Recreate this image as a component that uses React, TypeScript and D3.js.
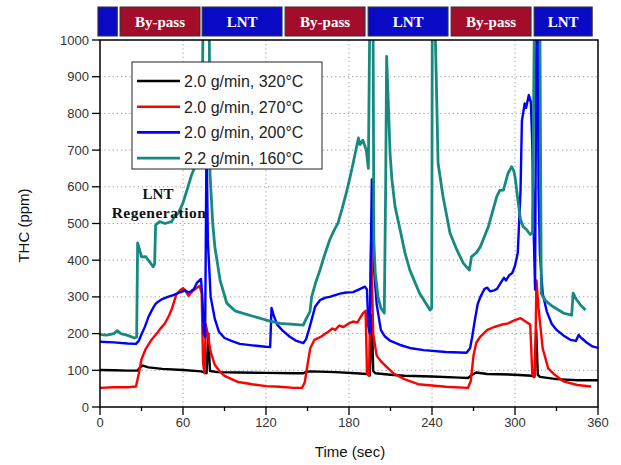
import React from "react";
import * as d3 from "d3";

type Pt = [number, number];

const X_TICKS = [0, 60, 120, 180, 240, 300, 360];
const X_MINOR = [30, 90, 150, 210, 270, 330];
const Y_TICKS = [0, 100, 200, 300, 400, 500, 600, 700, 800, 900, 1000];

const BANNER_START = [-1.5, 14.5, 73.8, 133.8, 193.8, 253.8, 313.8];
const BANNER_END = [12.5, 72.3, 131.6, 191.6, 251.6, 311.6, 355.8];
const BANNER_LABEL = ["", "By-pass", "LNT", "By-pass", "LNT", "By-pass", "LNT"];

const LEGEND_LABELS = [
  "2.0 g/min, 320°C",
  "2.0 g/min, 270°C",
  "2.0 g/min, 200°C",
  "2.2 g/min, 160°C",
];
const COLORS = ["#000000", "#ff0000", "#0000ff", "#178a80"];

const S320: Pt[] = [
  [0, 101], [10, 100], [20, 99], [27, 99], [29, 108], [31, 113], [35, 108], [45, 104], [60, 101], [73, 97],
  [75, 95], [77, 92], [78.3, 200], [79.5, 98], [85, 95], [100, 94], [120, 93], [140, 92], [147, 92], [149, 96],
  [152, 97], [170, 95], [185, 92], [193, 90], [195, 86], [196.5, 250], [197.5, 98], [199, 92], [210, 88], [220, 85],
  [240, 83], [260, 80], [266, 79], [269, 88], [272, 94], [280, 90], [300, 88], [312, 85], [314, 82], [315.3, 210],
  [316.5, 88], [318, 82], [330, 76], [345, 73], [360, 73],
];

const S270: Pt[] = [
  [0, 52], [10, 54], [20, 54], [26, 56], [28, 90], [30, 130], [33, 158], [37, 182], [41, 200], [44, 215],
  [47, 228], [50, 250], [52, 268], [55, 305], [58, 318], [60, 324], [62, 315], [64, 303], [67, 316], [70, 325],
  [72, 330], [73.5, 310], [74.5, 120], [75.5, 92], [76.5, 225], [78, 195], [80, 150], [83, 115], [87, 95], [90, 85],
  [100, 68], [110, 62], [120, 57], [130, 55], [140, 52], [146, 52], [148, 67], [150, 115], [152, 160], [155, 183],
  [160, 192], [163, 200], [165, 205], [168, 214], [170, 210], [173, 222], [176, 218], [180, 228], [183, 233], [186, 230],
  [190, 255], [192, 262], [193, 92], [194.5, 85], [196, 445], [197.5, 200], [200, 140], [203, 125], [207, 110], [212, 92],
  [220, 76], [230, 62], [250, 55], [266, 52], [268, 70], [270, 140], [272, 175], [275, 192], [280, 210], [285, 218],
  [290, 224], [295, 228], [300, 237], [304, 242], [308, 232], [311, 225], [312.5, 90], [313.5, 82], [314.5, 85], [315.5, 345],
  [317, 270], [320, 160], [324, 105], [328, 90], [335, 70], [345, 60], [355, 56],
];

const S200: Pt[] = [
  [0, 178], [10, 176], [20, 173], [26, 172], [28, 180], [30, 198], [32.5, 219], [35, 245], [37.5, 264], [40, 280],
  [42, 287], [45, 294], [49, 300], [53, 305], [56, 310], [59, 314], [61.5, 318], [64, 312], [66, 316], [68, 322],
  [70, 338], [73, 349], [74, 300], [75, 200], [76, 190], [77, 730], [78, 450], [80, 300], [83, 240], [86, 205],
  [90, 188], [95, 180], [101, 172], [110, 168], [118, 165], [123, 163], [124, 270], [125.5, 250], [128, 225], [132, 208],
  [137, 192], [142, 180], [147, 174], [149, 185], [151, 210], [153.5, 245], [155.5, 273], [159, 291], [163, 298], [166, 300],
  [170, 305], [173.5, 309], [178, 312], [183, 313], [187, 320], [191.5, 328], [193, 320], [194, 220], [195, 200], [196.5, 620],
  [198, 380], [200, 280], [203, 210], [206, 192], [210, 180], [217, 169], [225, 160], [234, 155], [250, 150], [265, 148],
  [267.5, 160], [269, 190], [271, 237], [273, 280], [275, 300], [278, 322], [280, 325], [282, 315], [285, 318], [287, 322],
  [290, 340], [292, 352], [293.5, 345], [296, 360], [298, 365], [300, 385], [302, 420], [304, 590], [305, 780], [307, 827],
  [308, 815], [310, 850], [311.5, 830], [312.5, 714], [313.5, 482], [314.5, 320], [315.5, 1050], [316.5, 1050], [317, 600], [318, 418],
  [320, 309], [323, 260], [326.5, 227], [330, 210], [335, 195], [340, 183], [344, 180], [346, 196], [348, 188], [352, 175],
  [356, 165], [360, 161],
];

const S160: Pt[] = [
  [0, 197], [5, 196], [10, 200], [12.5, 208], [15, 200], [20, 195], [25, 188], [26.5, 190], [27.2, 447], [28.5, 430],
  [30, 409], [33, 410], [36, 395], [38.4, 382], [39.5, 390], [40.2, 496], [43, 505], [47, 500], [51.8, 505], [54, 520],
  [56.6, 528], [60, 556], [63.6, 600], [66, 630], [68.6, 655], [71, 665], [73.5, 673], [74.5, 1050], [79, 1050], [79.5, 637],
  [81.5, 500], [83, 437], [86.8, 346], [91.6, 283], [97.6, 262], [101, 258], [110, 248], [120, 237], [130, 228], [140, 225],
  [147, 223], [149, 240], [151.8, 260], [153, 300], [156, 340], [159, 373], [162, 410], [166, 455], [169, 480], [172, 501],
  [175, 540], [178, 583], [181, 630], [183, 664], [186.8, 733], [188, 715], [190, 727], [192.5, 700], [194, 650], [195, 1050],
  [197.4, 1050], [198, 450], [199, 365], [201, 300], [203, 270], [205.5, 256], [206.5, 600], [207.2, 955], [208.5, 820], [209.7, 690],
  [211, 620], [213.3, 546], [217, 482], [220.5, 419], [224, 373], [231, 310], [238.6, 264], [239.8, 270], [240.2, 1050], [242.2, 1050],
  [244.4, 664], [248, 573], [253, 474], [258, 428], [262.6, 392], [267, 373], [268.6, 410], [272, 420], [275, 437], [280.7, 491],
  [286.8, 573], [289, 590], [291.6, 591], [293, 610], [295, 637], [297.6, 655], [299, 645], [300, 628], [302.4, 555], [304, 510],
  [306, 491], [308, 485], [311, 470], [312.6, 475], [314, 1050], [318, 1050], [319, 309], [322, 290], [327.6, 273], [335, 256],
  [341, 250], [342, 310], [344, 295], [348, 275], [351, 264],
];

const SERIES = [S320, S270, S200, S160];

const W = 621;
const H = 465;
const L = 100, R = 598, T = 40, B = 407;

export default function App() {
  const x = d3.scaleLinear().domain([0, 360]).range([L, R]);
  const y = d3.scaleLinear().domain([0, 1000]).range([B, T]);
  const line = d3
    .line<Pt>()
    .x((d) => x(d[0]))
    .y((d) => y(d[1]));

  const sans = "'Liberation Sans', Arial, sans-serif";
  const serif = "'Liberation Serif', 'Times New Roman', serif";

  return (
    <svg
      width={W}
      height={H}
      style={{ position: "absolute", left: 0, top: 0, background: "#fff" }}
    >
      <defs>
        <clipPath id="plotclip">
          <rect x={L} y={T} width={R - L} height={B - T} />
        </clipPath>
      </defs>
      <rect x={0} y={0} width={W} height={H} fill="#fff" />

      {/* banner */}
      {BANNER_START.map((s, i) => {
        const isBy = BANNER_LABEL[i] === "By-pass";
        const x0 = x(s);
        const x1 = x(BANNER_END[i]);
        return (
          <g key={"b" + i}>
            <rect
              x={x0}
              y={7}
              width={x1 - x0}
              height={29}
              fill={isBy ? "#a30d2b" : "#0a0ac4"}
              stroke="#333"
              strokeWidth={1}
            />
            {BANNER_LABEL[i] && (
              <text
                x={(x0 + x1) / 2}
                y={27}
                textAnchor="middle"
                fill="#fff"
                fontFamily={serif}
                fontWeight="bold"
                fontSize={15}
              >
                {BANNER_LABEL[i]}
              </text>
            )}
          </g>
        );
      })}

      {/* grid */}
      {Y_TICKS.filter((v) => v > 0 && v < 1000).map((v) => (
        <line
          key={"gy" + v}
          x1={L}
          x2={R}
          y1={y(v)}
          y2={y(v)}
          stroke="#9a9a9a"
          strokeWidth={1}
          strokeDasharray="1.2,3"
        />
      ))}
      {X_TICKS.filter((v) => v > 0 && v < 360).map((v) => (
        <line
          key={"gx" + v}
          x1={x(v)}
          x2={x(v)}
          y1={T}
          y2={B}
          stroke="#9a9a9a"
          strokeWidth={1}
          strokeDasharray="1.2,3"
        />
      ))}

      {/* series */}
      <g clipPath="url(#plotclip)">
        {SERIES.map((s, i) => (
          <path
            key={"s" + i}
            d={line(s) || ""}
            fill="none"
            stroke={COLORS[i]}
            strokeWidth={i === 3 ? 2.8 : 2.4}
            strokeLinejoin="round"
          />
        ))}
      </g>

      {/* frame */}
      <rect x={L} y={T} width={R - L} height={B - T} fill="none" stroke="#000" strokeWidth={1.5} />

      {/* y axis ticks */}
      {Y_TICKS.map((v) => (
        <g key={"yt" + v}>
          <line x1={L - 8} x2={L} y1={y(v)} y2={y(v)} stroke="#000" strokeWidth={1.3} />
          <text
            x={L - 11}
            y={y(v) + 4.5}
            textAnchor="end"
            fontFamily={sans}
            fontSize={13}
            fill="#333"
          >
            {v}
          </text>
        </g>
      ))}

      {/* x axis ticks */}
      {X_TICKS.map((v) => (
        <g key={"xt" + v}>
          <line x1={x(v)} x2={x(v)} y1={B} y2={B + 8} stroke="#000" strokeWidth={1.3} />
          <text
            x={x(v)}
            y={B + 20}
            textAnchor="middle"
            fontFamily={sans}
            fontSize={13}
            fill="#333"
          >
            {v}
          </text>
        </g>
      ))}
      {X_MINOR.map((v) => (
        <line key={"xm" + v} x1={x(v)} x2={x(v)} y1={B} y2={B + 4} stroke="#000" strokeWidth={1.3} />
      ))}

      {/* axis titles */}
      <text
        x={350}
        y={457}
        textAnchor="middle"
        fontFamily={sans}
        fontSize={15}
        fill="#111"
      >
        Time (sec)
      </text>
      <text
        transform={`translate(29,${(T + B) / 2 + 2}) rotate(-90)`}
        textAnchor="middle"
        fontFamily={sans}
        fontSize={15}
        fill="#111"
      >
        THC (ppm)
      </text>

      {/* annotation */}
      <text x={158} y={199} textAnchor="middle" fontFamily={serif} fontWeight="bold" fontSize={15} fill="#111">
        LNT
      </text>
      <text x={159} y={218} textAnchor="middle" fontFamily={serif} fontWeight="bold" fontSize={15.5} fill="#111" letterSpacing={0.5}>
        Regeneration
      </text>

      {/* legend */}
      <rect x={132} y={62} width={190} height={107} fill="#fff" stroke="#222" strokeWidth={1} />
      {LEGEND_LABELS.map((lab, i) => {
        const yy = 81 + i * 25.7;
        return (
          <g key={"lg" + i}>
            <line x1={137} x2={180} y1={yy} y2={yy} stroke={COLORS[i]} strokeWidth={2.6} />
            <text x={184} y={yy + 6} fontFamily={sans} fontSize={16} fill="#222">
              {lab}
            </text>
          </g>
        );
      })}
    </svg>
  );
}
